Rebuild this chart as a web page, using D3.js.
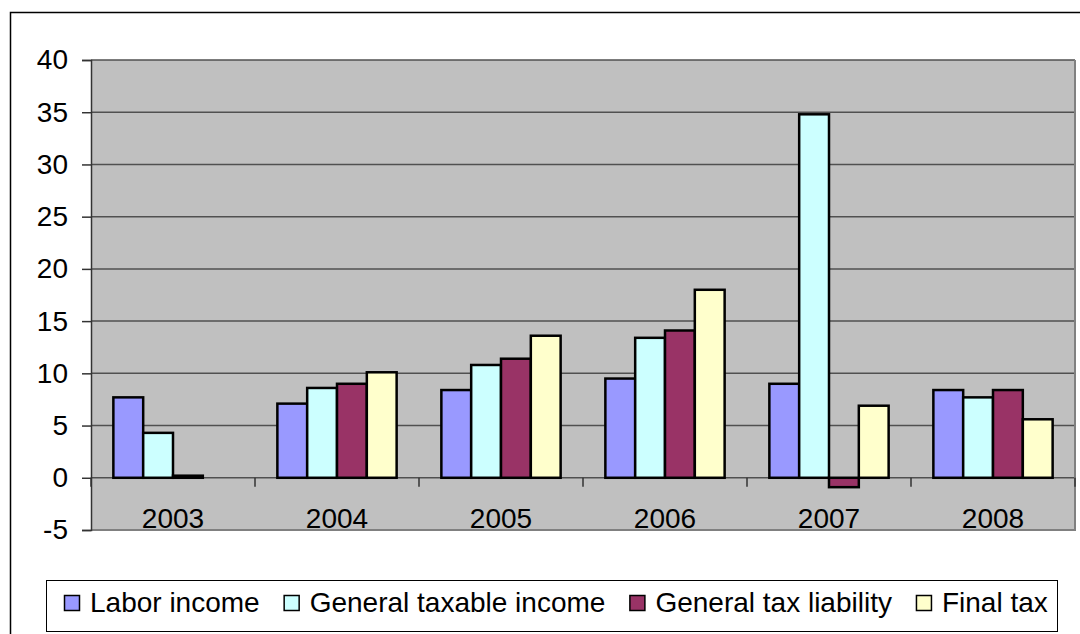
<!DOCTYPE html>
<html>
<head>
<meta charset="utf-8">
<script src="https://cdn.jsdelivr.net/npm/d3@7.9.0/dist/d3.min.js"></script>
<style>
  body { margin: 0; background: #fff; }
  svg { display: block; font-family: "Liberation Sans", Arial, sans-serif; }
</style>
</head>
<body>
<svg width="1080" height="634"></svg>
<script>
const years = ['2003', '2004', '2005', '2006', '2007', '2008'];
const seriesNames = ['Labor income', 'General taxable income', 'General tax liability', 'Final tax'];
const laborIncome = [7.7, 7.1, 8.4, 9.5, 9.0, 8.4];
const taxableIncome = [4.3, 8.6, 10.8, 13.4, 34.8, 7.7];
const taxLiability = [0.2, 9.0, 11.4, 14.1, -0.9, 8.4];
const finalTax = [0, 10.1, 13.6, 18.0, 6.9, 5.6];
const yTicks = [-5, 0, 5, 10, 15, 20, 25, 30, 35, 40];
const colors = ['#9999ff', '#ccffff', '#993366', '#ffffcc'];

const series = [laborIncome, taxableIncome, taxLiability, finalTax];

const svg = d3.select('svg');

// outer chart border
svg.append('rect')
  .attr('x', 10.5).attr('y', 12.5)
  .attr('width', 1080).attr('height', 640)
  .attr('fill', 'none').attr('stroke', '#000').attr('stroke-width', 1.5);

const plot = { left: 91, right: 1075, top: 60, bottom: 530 };

const x = d3.scaleBand().domain(years).range([plot.left, plot.right]);
// 4 bars + 1.5 bar widths of gap per category
const barW = x.bandwidth() / 5.5;
const y = d3.scaleLinear().domain([-5, 40]).range([plot.bottom, plot.top]);

// plot background
svg.append('rect')
  .attr('x', plot.left).attr('y', plot.top)
  .attr('width', plot.right - plot.left).attr('height', plot.bottom - plot.top)
  .attr('fill', '#c0c0c0');

// gridlines
svg.append('g')
  .selectAll('line')
  .data(yTicks.filter(d => d > -5))
  .join('line')
  .attr('x1', plot.left).attr('x2', plot.right)
  .attr('y1', d => y(d)).attr('y2', d => y(d))
  .attr('stroke', '#505050').attr('stroke-width', 1.5);

// right/bottom plot border
svg.append('path')
  .attr('d', `M${plot.left},${plot.bottom}H${plot.right}V${plot.top}`)
  .attr('fill', 'none').attr('stroke', '#808080').attr('stroke-width', 2);

// y axis
const yAxis = svg.append('g')
  .attr('transform', `translate(${plot.left},0)`)
  .call(d3.axisLeft(y).tickValues(yTicks).tickSize(9).tickPadding(14)
    .tickFormat(d => String(d)));
yAxis.select('.domain').attr('stroke', '#333').attr('stroke-width', 1.5);
yAxis.selectAll('.tick line').attr('stroke', '#333').attr('stroke-width', 1.5);
yAxis.selectAll('.tick text')
  .attr('font-size', 28).attr('fill', '#000')
  .attr('font-family', '"Liberation Sans", Arial, sans-serif');

// category ticks along zero
svg.append('g')
  .attr('transform', `translate(0,${y(0)})`)
  .selectAll('line')
  .data(d3.range(years.length + 1))
  .join('line')
  .attr('x1', i => plot.left + i * x.bandwidth())
  .attr('x2', i => plot.left + i * x.bandwidth())
  .attr('y1', 0).attr('y2', 9)
  .attr('stroke', '#333').attr('stroke-width', 1.5);

// bars
const groups = svg.append('g')
  .selectAll('g')
  .data(years)
  .join('g')
  .attr('transform', d => `translate(${x(d)},0)`);

groups.selectAll('rect')
  .data((d, i) => series.map((s, k) => ({ k, v: s[i] })).filter(e => e.v !== 0))
  .join('rect')
  .attr('x', e => barW * 0.75 + e.k * barW)
  .attr('width', barW)
  .attr('y', e => y(Math.max(0, e.v)))
  .attr('height', e => Math.abs(y(e.v) - y(0)))
  .attr('fill', e => colors[e.k])
  .attr('stroke', '#000')
  .attr('stroke-width', 2.5);

// category labels
svg.append('g')
  .selectAll('text')
  .data(years)
  .join('text')
  .attr('x', d => x(d) + x.bandwidth() / 2)
  .attr('y', 528)
  .attr('text-anchor', 'middle')
  .attr('font-size', 28)
  .text(d => d);

// legend
const legend = svg.append('g');
legend.append('rect')
  .attr('x', 46.5).attr('y', 580.5)
  .attr('width', 1011).attr('height', 51)
  .attr('fill', '#fff').attr('stroke', '#000').attr('stroke-width', 1);

let lx = 64;
seriesNames.forEach((name, k) => {
  const item = legend.append('g').attr('transform', `translate(${lx},0)`);
  item.append('rect')
    .attr('x', 0.5).attr('y', 595.5)
    .attr('width', 15).attr('height', 15)
    .attr('fill', colors[k]).attr('stroke', '#000').attr('stroke-width', 1.5);
  const t = item.append('text')
    .attr('x', 26).attr('y', 612)
    .attr('font-size', 28)
    .text(name);
  lx += 26 + t.node().getComputedTextLength() + 24;
});
</script>
</body>
</html>
